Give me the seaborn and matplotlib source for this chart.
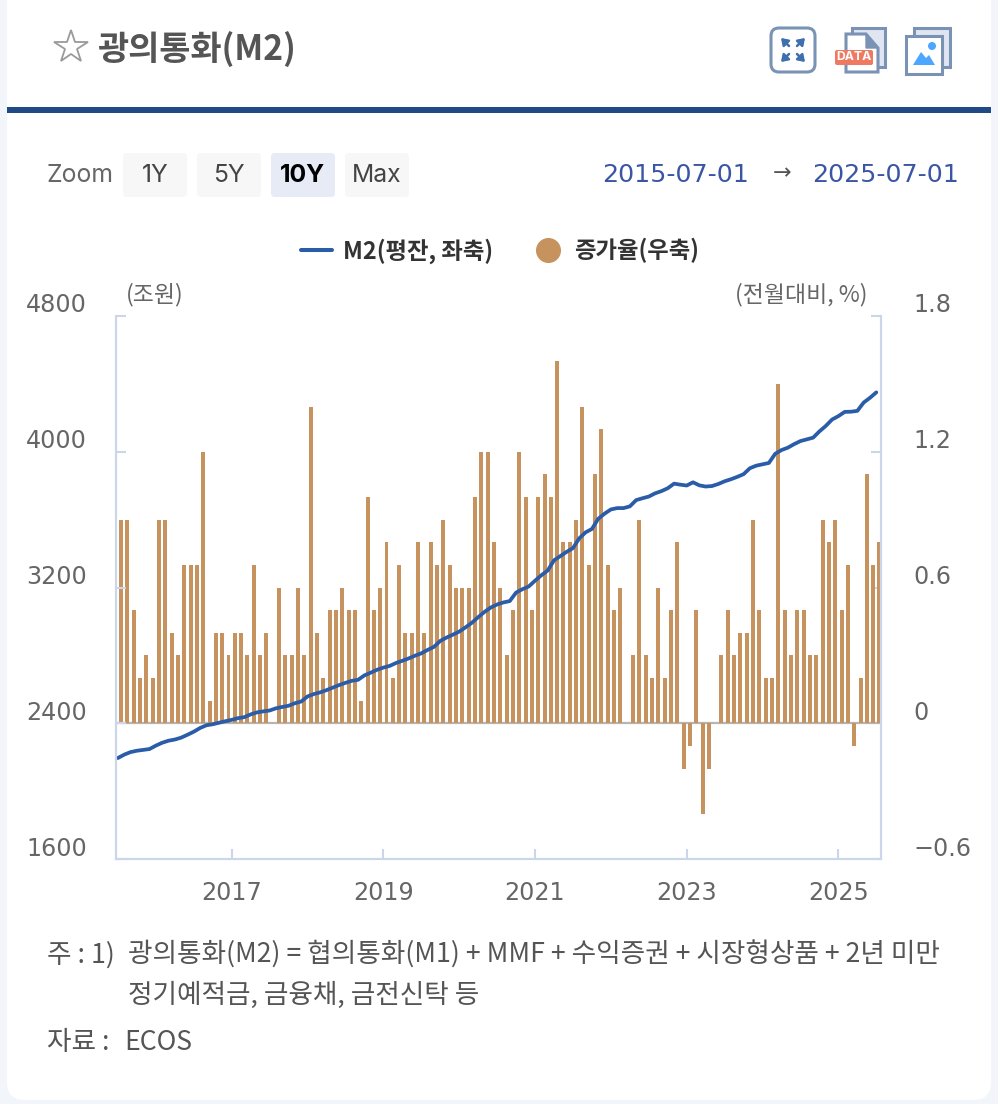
import matplotlib
matplotlib.use("Agg")
import matplotlib.pyplot as plt
from matplotlib.lines import Line2D
from matplotlib.patches import FancyBboxPatch, Rectangle, Polygon, Circle
from matplotlib.transforms import ScaledTranslation
import numpy as np
import pandas as pd
import seaborn as sns

m2_level = [2195,2215,2230,2238,2243,2248,2268,2285,2297,2304,2315,2332,2350,2372,2388,2394,2403,2412,2420,2430,
            2436,2452,2464,2470,2475,2488,2496,2503,2518,2528,2558,2572,2582,2595,2610,2625,2638,2650,2656,2682,
            2698,2715,2728,2738,2755,2768,2782,2798,2812,2832,2850,2885,2905,2922,2940,2965,2992,3025,3056,3082,
            3100,3112,3120,3170,3190,3206,3240,3272,3300,3360,3385,3410,3432,3490,3525,3545,3605,3635,3660,3668,
            3668,3678,3715,3726,3736,3755,3768,3785,3812,3806,3801,3820,3802,3795,3798,3810,3826,3838,3852,3868,
            3903,3918,3926,3934,3988,4010,4024,4045,4063,4073,4083,4120,4152,4190,4210,4235,4236,4241,4290,4318,4350]
growth = [.9,.9,.5,.2,.3,.2,.9,.9,.4,.3,.7,.7,.7,1.2,.1,.4,.4,.3,.4,.4,
          .3,.7,.3,.4,0,.6,.3,.3,.6,.3,1.4,.4,.2,.5,.5,.6,.5,.5,.1,1.0,
          .5,.6,.8,.2,.7,.4,.4,.8,.4,.8,.7,.9,.7,.6,.6,.6,1.0,1.2,1.2,.8,
          .6,.3,.5,1.2,1.0,.5,1.0,1.1,1.0,1.6,.8,.8,.9,1.4,.7,1.1,1.3,.7,.5,.6,
          0,.3,.9,.3,.2,.6,.2,.5,.8,-.2,-.1,.5,-.4,-.2,0,.3,.5,.3,.4,.4,
          .9,.5,.2,.2,1.5,.5,.3,.5,.5,.3,.3,.9,.8,.9,.5,.7,-.1,.2,1.1,.7,.8]
months = pd.date_range("2015-07-01", "2025-07-01", freq="MS")
year_ticks = ["2017", "2019", "2021", "2023", "2025"]
left_ticks = [1600, 2400, 3200, 4000, 4800]
left_labels = ["1600", "2400", "3200", "4000", "4800"]
right_ticks = [-0.6, 0, 0.6, 1.2, 1.8]
right_labels = ["\u22120.6", "0", "0.6", "1.2", "1.8"]

sns.set_theme(style="white")
plt.rcParams['font.family'] = ['Noto Sans CJK KR', 'DejaVu Sans']
LATIN = ['Inter', 'DejaVu Sans']
WIDE = ['DejaVu Sans']

W, H = 998, 1104
GREY, AXC, LINE, BAR = "#666666", "#ccd6eb", "#2a5ca8", "#c6935f"
ICON = "#7a93b5"
fig = plt.figure(figsize=(W/100, H/100), dpi=100, facecolor="#f2f6fa")

# page furniture in pixel coordinates
bg = fig.add_axes([0, 0, 1, 1], zorder=0)
bg.set_xlim(0, W); bg.set_ylim(H, 0); bg.axis("off")
bg.add_patch(FancyBboxPatch((7, -30), 984, 1130, boxstyle="round,pad=0,rounding_size=18", fc="white", ec="none"))
bg.add_patch(Rectangle((7, 107), 984, 6, fc="#1f4a85", ec="none"))

def T(x, y, s, size, color=GREY, ha="left", weight="normal", family=None):
    bg.text(x, y, s, fontsize=size, color=color, ha=ha, va="center", fontweight=weight, family=family)

bg.plot([71], [47], marker="*", ms=25, mfc="white", mec="#9a9a9a", mew=1.3)
T(97, 49, "광의통화(M2)", 24.4, "#555555", weight="bold")

# icons
bg.add_patch(FancyBboxPatch((771, 28), 44, 44, boxstyle="round,pad=0,rounding_size=8", fc="white", ec=ICON, lw=2.2))
for x0, y0, x1, y1 in [(789, 46, 781, 38), (797, 46, 805, 38), (789, 54, 781, 62), (797, 54, 805, 62)]:
    bg.annotate("", xy=(x1, y1), xytext=(x0, y0), arrowprops=dict(arrowstyle="-|>,head_width=0.22,head_length=0.32", color="#3f6fae", lw=1.8, shrinkA=0, shrinkB=0))
bg.add_patch(Rectangle((852, 28), 33, 39, fc="#dfe5f1", ec=ICON, lw=2.2))
bg.add_patch(Polygon([[846, 34], [866, 34], [878, 48], [878, 72], [846, 72]], fc="white", ec=ICON, lw=2.2))
bg.add_patch(Polygon([[866, 34], [878, 48], [866, 48]], fc=ICON, ec=ICON, lw=1))
bg.add_patch(FancyBboxPatch((835, 50), 38, 15, boxstyle="round,pad=0,rounding_size=2", fc="#ee7b61", ec="none"))
bg.text(854, 57.5, "DATA", fontsize=8.8, color="white", fontweight="bold", ha="center", va="center", family=LATIN)
bg.add_patch(Rectangle((914, 28), 36, 39, fc="#dfe5f1", ec=ICON, lw=2.2))
bg.add_patch(Rectangle((906, 36), 36, 38, fc="white", ec=ICON, lw=2.2))
bg.add_patch(Circle((932, 46), 4, fc="#4da6ff", ec="none"))
bg.add_patch(Polygon([[913, 65], [921, 52], [926, 58], [929, 55], [935, 65]], fc="#4da6ff", ec="none"))

# zoom buttons
T(47, 176, "Zoom", 17.8, family=LATIN)
for x0, x1, lab, fc, col, wt in [(123, 187, "1Y", "#f7f7f7", "#444444", "normal"), (197, 261, "5Y", "#f7f7f7", "#444444", "normal"),
                                 (271, 335, "10Y", "#e6ebf5", "#000000", "bold"), (345, 409, "Max", "#f7f7f7", "#444444", "normal")]:
    bg.add_patch(FancyBboxPatch((x0, 153), x1-x0, 44, boxstyle="round,pad=0,rounding_size=4", fc=fc, ec="none"))
    bg.text((x0+x1)/2, 176, lab, fontsize=17.8, color=col, fontweight=wt, ha="center", va="center", family=LATIN)

T(602, 175, "2015-07-01", 18.2, "#3b55a5", family=WIDE)
T(782, 173, "\u2192", 16, "#555555", ha="center", family=WIDE)
T(812, 175, "2025-07-01", 18.2, "#3b55a5", family=WIDE)

T(126, 295, "(조원)", 16.5)
T(868, 295, "(전월대비, %)", 16.5, ha="right")

T(47, 955, "주 : 1)", 19.2, "#555555")
T(128, 955, "광의통화(M2) = 협의통화(M1) + MMF + 수익증권 + 시장형상품 + 2년 미만", 19.2, "#555555")
T(128, 995, "정기예적금, 금융채, 금전신탁 등", 19.2, "#555555")
T(47, 1043, "자료 :", 19.2, "#555555")
T(124, 1043, "ECOS", 19.2, "#555555")

# chart
L, R, TOP, BOT = 116, 881, 316, 859
axr = fig.add_axes([L/W, 1-BOT/H, (R-L)/W, (BOT-TOP)/H], zorder=1, facecolor="none")
ax = axr.twinx()
ax.set_zorder(2); ax.patch.set_visible(False)

idx = np.arange(len(months))
df = pd.DataFrame({"pos": idx + 0.5, "m": idx, "m2": m2_level, "g": growth})
sns.barplot(data=df, x="pos", y="g", native_scale=True, color=BAR, saturation=1, width=0.63,
            edgecolor="none", linewidth=0, ax=axr, zorder=2)
axr.axhline(0, color="#b5b5b5", lw=1.6, zorder=1)
sns.lineplot(data=df, x="m", y="m2", color=LINE, lw=2.7, ax=ax, errorbar=None)

xlim = (-0.3, 120.74)
for a in (ax, axr):
    a.set_xlim(*xlim); a.set_xlabel(""); a.set_ylabel("")
    a.grid(False)
    a.spines["top"].set_visible(False)
    for s in a.spines.values():
        s.set_color(AXC); s.set_linewidth(1.5)

ax.set_ylim(1600, 4800)
axr.set_ylim(-0.6, 1.8)
ax.yaxis.tick_left(); axr.yaxis.tick_right()
ax.set_yticks(left_ticks, left_labels)
axr.set_yticks(right_ticks, right_labels)
ax.tick_params(axis="y", direction="in", length=7, width=1.5, color=AXC, labelcolor=GREY, labelsize=17.2, pad=21)
axr.tick_params(axis="y", direction="in", length=7, width=1.5, color=AXC, labelcolor=GREY, labelsize=17.2, pad=23)
tick_pos = [list(months).index(pd.Timestamp(f"{y}-01-01")) for y in year_ticks]
axr.set_xticks(tick_pos, year_ticks)
axr.tick_params(axis="x", direction="in", length=7, width=1.5, color=AXC, labelcolor=GREY, labelsize=17.2, pad=16, bottom=True)
off = ScaledTranslation(0, 13/100, fig.dpi_scale_trans)
for lab in ax.get_yticklabels() + axr.get_yticklabels():
    lab.set_transform(lab.get_transform() + off)
for lab in ax.get_yticklabels() + axr.get_yticklabels() + axr.get_xticklabels():
    lab.set_fontfamily(WIDE)

handles = [Line2D([], [], color=LINE, lw=2.9),
           Line2D([], [], color=BAR, marker="o", ms=17, lw=0)]
fig.legend(handles, ["M2(평잔, 좌축)", "증가율(우축)"], loc="center", bbox_to_anchor=(500/W, 1-251/H), ncol=2,
           frameon=False, prop={"size": 16.8, "weight": "bold"}, labelcolor="#333333",
           handlelength=1.33, columnspacing=1.7, handletextpad=0.47)

fig.savefig("out.png", dpi=100, facecolor=fig.get_facecolor())
